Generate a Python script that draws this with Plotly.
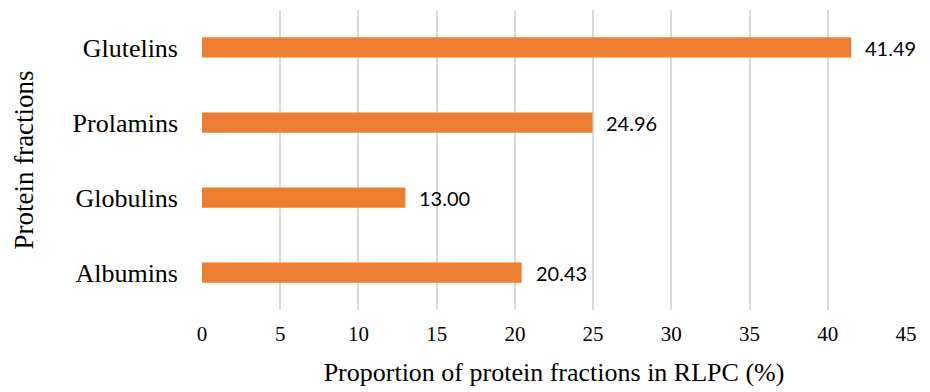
import plotly.graph_objects as go

# Protein fraction shares (%) in RLPC
fractions = ["Albumins", "Globulins", "Prolamins", "Glutelins"]
proportions = [20.43, 13.00, 24.96, 41.49]
x_ticks = [0, 5, 10, 15, 20, 25, 30, 35, 40, 45]

BAR_COLOR = "#ED7D31"
SERIF = "Liberation Serif"
SANS = "Lato"

fig = go.Figure(
    go.Bar(
        x=proportions,
        y=fractions,
        orientation="h",
        width=0.27,
        marker=dict(color=BAR_COLOR, line=dict(width=0)),
        hoverinfo="skip",
    )
)

# value labels just past the bar ends
for name, val in zip(fractions, proportions):
    fig.add_annotation(
        x=val, y=name, text=f"{val:.2f}", showarrow=False,
        xanchor="left", yanchor="middle", xshift=12,
        font=dict(family=SANS, size=20, color="#000000"),
    )

fig.update_layout(
    width=930, height=392,
    margin=dict(l=202, r=24, t=10, b=82),
    plot_bgcolor="white", paper_bgcolor="white",
    showlegend=False,
    font=dict(family=SERIF),
)
fig.update_xaxes(
    range=[0, 45], tickvals=x_ticks, ticktext=[str(t) for t in x_ticks],
    showgrid=True, gridcolor="#d9d9d9", gridwidth=1.5,
    zeroline=False, showline=False, ticks="",
    ticklabelstandoff=9,
    tickfont=dict(family=SERIF, size=21, color="#000000"),
    title=dict(text="Proportion of protein fractions in RLPC (%)",
               font=dict(family=SERIF, size=26, color="#000000"), standoff=17),
)
fig.update_yaxes(
    range=[-0.5, 3.5], showgrid=False, zeroline=False, showline=False, ticks="",
    ticklabelstandoff=23,
    tickfont=dict(family=SERIF, size=26, color="#000000"),
    title=dict(text="Protein fractions",
               font=dict(family=SERIF, size=27, color="#000000"), standoff=31),
)

fig.write_html("out.html")
